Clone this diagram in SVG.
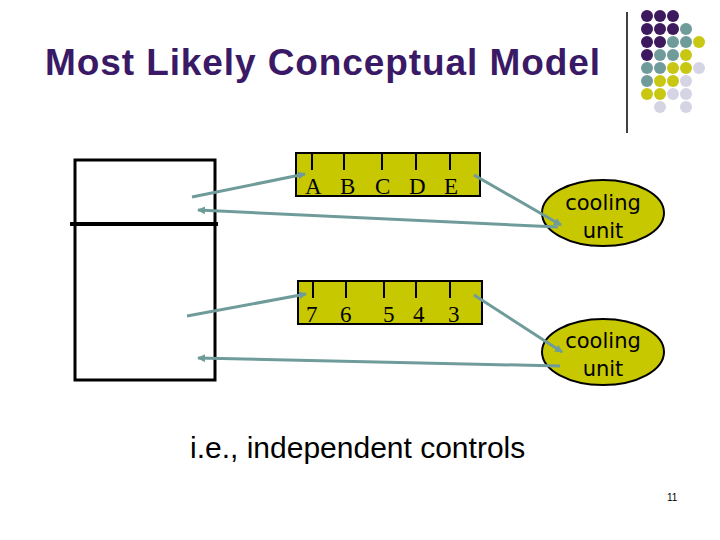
<svg xmlns="http://www.w3.org/2000/svg" width="720" height="540" viewBox="0 0 720 540">
<style>
.c{stroke:#6f9c9a;stroke-width:3;fill:none;marker-end:url(#a)}
.box{fill:#c8c800;stroke:#000;stroke-width:2}
.t{font-family:"Liberation Serif",serif;font-size:23px}
.cu{font-family:"DejaVu Sans",sans-serif;font-size:21px;text-anchor:middle}
.tk{stroke:#000;stroke-width:2}
</style>
<defs><marker id="a" markerWidth="8" markerHeight="8" refX="7" refY="4" orient="auto" markerUnits="userSpaceOnUse"><path d="M0,0L8,4L0,8z" fill="#6f9c9a"/></marker></defs>
<rect width="720" height="540" fill="#fff"/>
<text x="45" y="75" font-family="Liberation Sans,sans-serif" font-size="37" font-weight="bold" fill="#3a1a66" textLength="555">Most Likely Conceptual Model</text>
<line x1="627" y1="12" x2="627" y2="133" stroke="#000" stroke-width="1.5"/>
<g id="dots">
<g fill="#3d1a5e"><circle cx="647" cy="16" r="6"/><circle cx="660" cy="16" r="6"/><circle cx="673" cy="16" r="6"/><circle cx="647" cy="29" r="6"/><circle cx="660" cy="29" r="6"/><circle cx="673" cy="29" r="6"/><circle cx="647" cy="42" r="6"/><circle cx="660" cy="42" r="6"/><circle cx="647" cy="55" r="6"/></g>
<g fill="#6f9c9a"><circle cx="686" cy="29" r="6"/><circle cx="673" cy="42" r="6"/><circle cx="686" cy="42" r="6"/><circle cx="660" cy="55" r="6"/><circle cx="673" cy="55" r="6"/><circle cx="647" cy="68" r="6"/><circle cx="660" cy="68" r="6"/><circle cx="647" cy="81" r="6"/></g>
<g fill="#c8c814"><circle cx="699" cy="42" r="6"/><circle cx="686" cy="55" r="6"/><circle cx="673" cy="68" r="6"/><circle cx="686" cy="68" r="6"/><circle cx="660" cy="81" r="6"/><circle cx="673" cy="81" r="6"/><circle cx="647" cy="94" r="6"/><circle cx="660" cy="94" r="6"/></g>
<g fill="#d4d4e4"><circle cx="699" cy="68" r="6"/><circle cx="686" cy="81" r="6"/><circle cx="673" cy="94" r="6"/><circle cx="686" cy="94" r="6"/><circle cx="660" cy="107" r="6"/><circle cx="686" cy="107" r="6"/></g>
</g>
<g id="fridge">
<rect x="75" y="160" width="140" height="220" fill="none" stroke="#000" stroke-width="3"/>
<line x1="70" y1="224" x2="218" y2="224" stroke="#000" stroke-width="4"/>
</g>
<g id="top">
<rect class="box" x="296" y="153" width="184" height="43"/>
<path class="tk" d="M312,153v17M344,153v17M382,153v17M416,153v17M450,153v17"/>
<text class="t" y="194"><tspan x="305">A</tspan><tspan x="340">B</tspan><tspan x="375">C</tspan><tspan x="409">D</tspan><tspan x="444">E</tspan></text>
</g>
<g id="bottom">
<rect class="box" x="298" y="281" width="184" height="43"/>
<path class="tk" d="M313,281v17M346,281v17M384,281v17M416,281v17M450,281v17"/>
<text class="t" y="322"><tspan x="306">7</tspan><tspan x="340">6</tspan><tspan x="383">5</tspan><tspan x="413">4</tspan><tspan x="448">3</tspan></text>
</g>
<g id="cool1"><ellipse cx="603" cy="213" rx="61" ry="33" fill="#c8c800" stroke="#000" stroke-width="2"/>
<text class="cu" x="603" y="210">cooling</text><text class="cu" x="603" y="238">unit</text></g>
<g id="cool2"><ellipse cx="603" cy="352" rx="61" ry="33" fill="#c8c800" stroke="#000" stroke-width="2"/>
<text class="cu" x="603" y="348">cooling</text><text class="cu" x="603" y="376">unit</text></g>
<g id="connectors">
<line class="c" x1="192" y1="197" x2="305" y2="174"/>
<line class="c" x1="474" y1="175" x2="561" y2="225"/>
<line class="c" x1="558" y1="227" x2="198" y2="210"/>
<line class="c" x1="187" y1="316" x2="306" y2="294"/>
<line class="c" x1="474" y1="295" x2="562" y2="352"/>
<line class="c" x1="560" y1="366" x2="198" y2="358"/>
</g>
<text x="190" y="458" font-family="Liberation Sans,sans-serif" font-size="30">i.e., independent controls</text>
<text x="667" y="501" font-family="Liberation Sans,sans-serif" font-size="10">11</text>
</svg>
